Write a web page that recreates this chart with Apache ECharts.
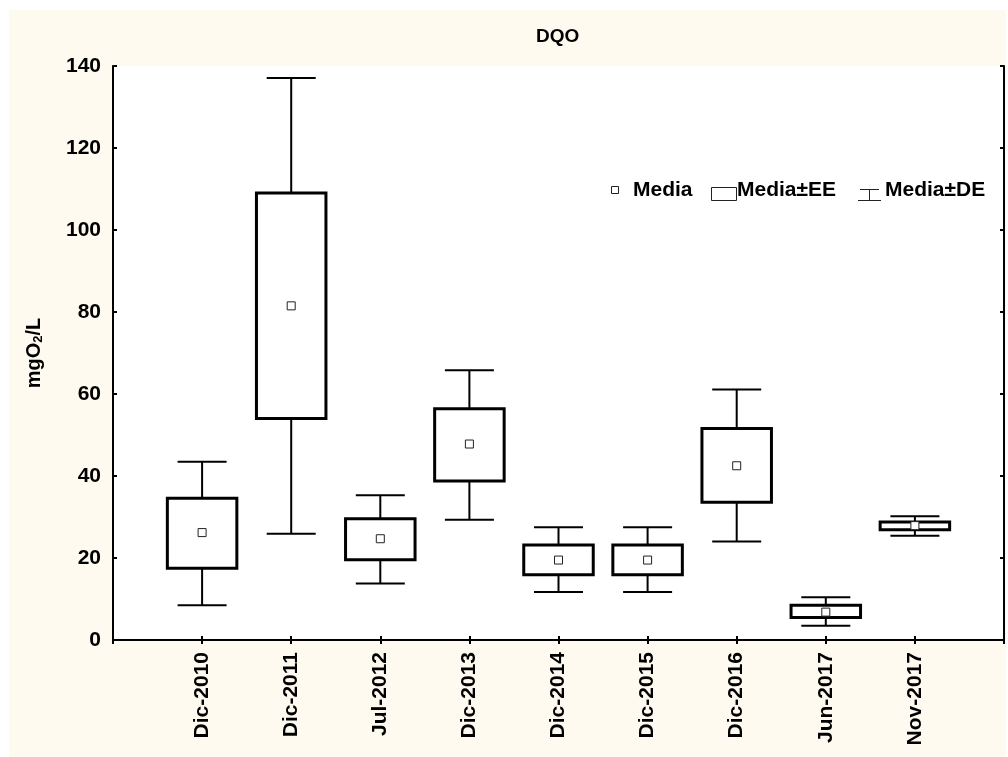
<!DOCTYPE html>
<html>
<head>
<meta charset="utf-8">
<script src="https://cdn.jsdelivr.net/npm/echarts@6/dist/echarts.min.js"></script>
<style>
  html, body { margin: 0; padding: 0; background: #ffffff; }
  #wrap { position: relative; width: 1008px; height: 757px; background: #ffffff; }
  #cream { position: absolute; left: 9px; top: 10px; width: 997px; height: 747px; background: #fefaf0; }
  #chart { position: absolute; left: 0; top: 0; width: 1008px; height: 757px; }
</style>
</head>
<body>
<div id="wrap"><div id="cream"></div><div id="chart"></div></div>
<script>
// ---- data ----
const categories = ['Dic-2010','Dic-2011','Jul-2012','Dic-2013','Dic-2014','Dic-2015','Dic-2016','Jun-2017','Nov-2017'];
const meanValues = [26.2, 81.5, 24.7, 47.8, 19.5, 19.5, 42.5, 6.8, 27.9];
const eeLow      = [17.5, 54.0, 19.6, 38.8, 15.9, 15.9, 33.6, 5.5, 26.9];
const eeHigh     = [34.6, 109.0, 29.6, 56.4, 23.2, 23.2, 51.6, 8.5, 28.8];
const deLow      = [8.5, 25.9, 13.8, 29.3, 11.7, 11.7, 24.0, 3.5, 25.4];
const deHigh     = [43.5, 137.1, 35.3, 65.8, 27.5, 27.5, 61.1, 10.4, 30.2];
const yTicks     = [0, 20, 40, 60, 80, 100, 120, 140];
const legendLabels = ['Media', 'Media\u00b1EE', 'Media\u00b1DE'];
const titleText = 'DQO';

// axis slots: one empty slot at each end
const axisCats = [''].concat(categories, ['']);

const meanData = categories.map((c, i) => [i + 1, meanValues[i]]);
const eeData = categories.map((c, i) => [i + 1, eeLow[i], eeHigh[i]]);
const deData = categories.map((c, i) => [i + 1, deLow[i], deHigh[i]]);

const FONT = 'Liberation Sans, Arial, sans-serif';

const chart = echarts.init(document.getElementById('chart'), null, { renderer: 'canvas' });

function renderBox(params, api) {
  const x = api.value(0);
  const lo = api.coord([x, api.value(1)]);
  const hi = api.coord([x, api.value(2)]);
  const bw = api.size([1, 0])[0] * 0.78;
  return {
    type: 'rect',
    shape: { x: hi[0] - bw / 2, y: hi[1], width: bw, height: lo[1] - hi[1] },
    style: { fill: '#ffffff', stroke: '#000000', lineWidth: 3 }
  };
}

function renderWhisker(params, api) {
  const x = api.value(0);
  const lo = api.coord([x, api.value(1)]);
  const hi = api.coord([x, api.value(2)]);
  const cw = api.size([1, 0])[0] * 0.55;
  const st = { stroke: '#000000', lineWidth: 2 };
  return {
    type: 'group',
    children: [
      { type: 'line', shape: { x1: hi[0], y1: hi[1], x2: lo[0], y2: lo[1] }, style: st },
      { type: 'line', shape: { x1: hi[0] - cw / 2, y1: hi[1], x2: hi[0] + cw / 2, y2: hi[1] }, style: st },
      { type: 'line', shape: { x1: lo[0] - cw / 2, y1: lo[1], x2: lo[0] + cw / 2, y2: lo[1] }, style: st }
    ]
  };
}

const tickLabelStyle = { color: '#000', fontFamily: FONT, fontWeight: 'bold', fontSize: 21 };

const option = {
  animation: false,
  backgroundColor: 'transparent',
  title: {
    text: titleText,
    left: 531, top: 22,
    textStyle: { color: '#000', fontFamily: FONT, fontWeight: 'bold', fontSize: 19 }
  },
  grid: {
    left: 113, top: 66, right: 4, bottom: 117,
    show: true, backgroundColor: '#ffffff', borderWidth: 0
  },
  xAxis: [
    {
      type: 'category', data: axisCats, boundaryGap: false, position: 'bottom',
      axisLine: { show: true, lineStyle: { color: '#000', width: 2 } },
      axisTick: { show: true, inside: true, length: 4, interval: 0, lineStyle: { color: '#000', width: 2 } },
      axisLabel: Object.assign({ interval: 0, rotate: 90, margin: 12 }, tickLabelStyle),
      splitLine: { show: false }
    },
    {
      type: 'category', data: axisCats, boundaryGap: false, position: 'top',
      axisLine: { show: true, lineStyle: { color: '#000', width: 2 } },
      axisTick: { show: true, inside: true, length: 4, interval: 0, lineStyle: { color: '#000', width: 2 } },
      axisLabel: { show: false },
      splitLine: { show: false }
    }
  ],
  yAxis: [
    {
      type: 'value', min: yTicks[0], max: yTicks[yTicks.length - 1], interval: yTicks[1] - yTicks[0],
      position: 'left',
      name: '{a|mgO}{b|2}{a|/L}', nameLocation: 'middle', nameGap: 68, nameRotate: 90,
      nameTextStyle: {
        rich: {
          a: { color: '#000', fontFamily: FONT, fontWeight: 'bold', fontSize: 20 },
          b: { color: '#000', fontFamily: FONT, fontWeight: 'bold', fontSize: 13, verticalAlign: 'bottom', padding: [8, 0, 0, 0] }
        }
      },
      axisLine: { show: true, lineStyle: { color: '#000', width: 2 } },
      axisTick: { show: true, inside: true, length: 4, lineStyle: { color: '#000', width: 2 } },
      axisLabel: Object.assign({ margin: 12 }, tickLabelStyle),
      splitLine: { show: false }
    },
    {
      type: 'value', min: yTicks[0], max: yTicks[yTicks.length - 1], interval: yTicks[1] - yTicks[0],
      position: 'right',
      axisLine: { show: true, lineStyle: { color: '#000', width: 2 } },
      axisTick: { show: true, inside: true, length: 4, lineStyle: { color: '#000', width: 2 } },
      axisLabel: { show: false },
      splitLine: { show: false }
    }
  ],
  series: [
    {
      name: legendLabels[2], type: 'custom', renderItem: renderWhisker,
      data: deData, encode: { x: 0, y: [1, 2] }, z: 2, silent: true
    },
    {
      name: legendLabels[1], type: 'custom', renderItem: renderBox,
      data: eeData, encode: { x: 0, y: [1, 2] }, z: 3, silent: true
    },
    {
      name: legendLabels[0], type: 'scatter', data: meanData,
      symbol: 'rect', symbolSize: 8, z: 4, silent: true,
      itemStyle: { color: '#ffffff', borderColor: '#222', borderWidth: 1, opacity: 1 }
    }
  ],
  graphic: [
    { type: 'rect', shape: { x: 611.5, y: 186.5, width: 7, height: 7 }, style: { fill: '#fff', stroke: '#222', lineWidth: 1 }, z: 100 },
    { type: 'text', x: 633, y: 190, style: { text: legendLabels[0], fill: '#000', font: 'bold 21px ' + FONT, textVerticalAlign: 'middle' }, z: 100 },
    { type: 'rect', shape: { x: 711.5, y: 187.5, width: 25, height: 13 }, style: { fill: '#fff', stroke: '#222', lineWidth: 1 }, z: 100 },
    { type: 'text', x: 737, y: 190, style: { text: legendLabels[1], fill: '#000', font: 'bold 21px ' + FONT, textVerticalAlign: 'middle' }, z: 100 },
    { type: 'line', shape: { x1: 860, y1: 189.5, x2: 879, y2: 189.5 }, style: { stroke: '#222', lineWidth: 1 }, z: 100 },
    { type: 'line', shape: { x1: 869.5, y1: 189.5, x2: 869.5, y2: 201 }, style: { stroke: '#222', lineWidth: 1 }, z: 100 },
    { type: 'line', shape: { x1: 858, y1: 200.5, x2: 881, y2: 200.5 }, style: { stroke: '#222', lineWidth: 1 }, z: 100 },
    { type: 'text', x: 885, y: 190, style: { text: legendLabels[2], fill: '#000', font: 'bold 21px ' + FONT, textVerticalAlign: 'middle' }, z: 100 }
  ]
};

chart.setOption(option);
</script>
</body>
</html>
